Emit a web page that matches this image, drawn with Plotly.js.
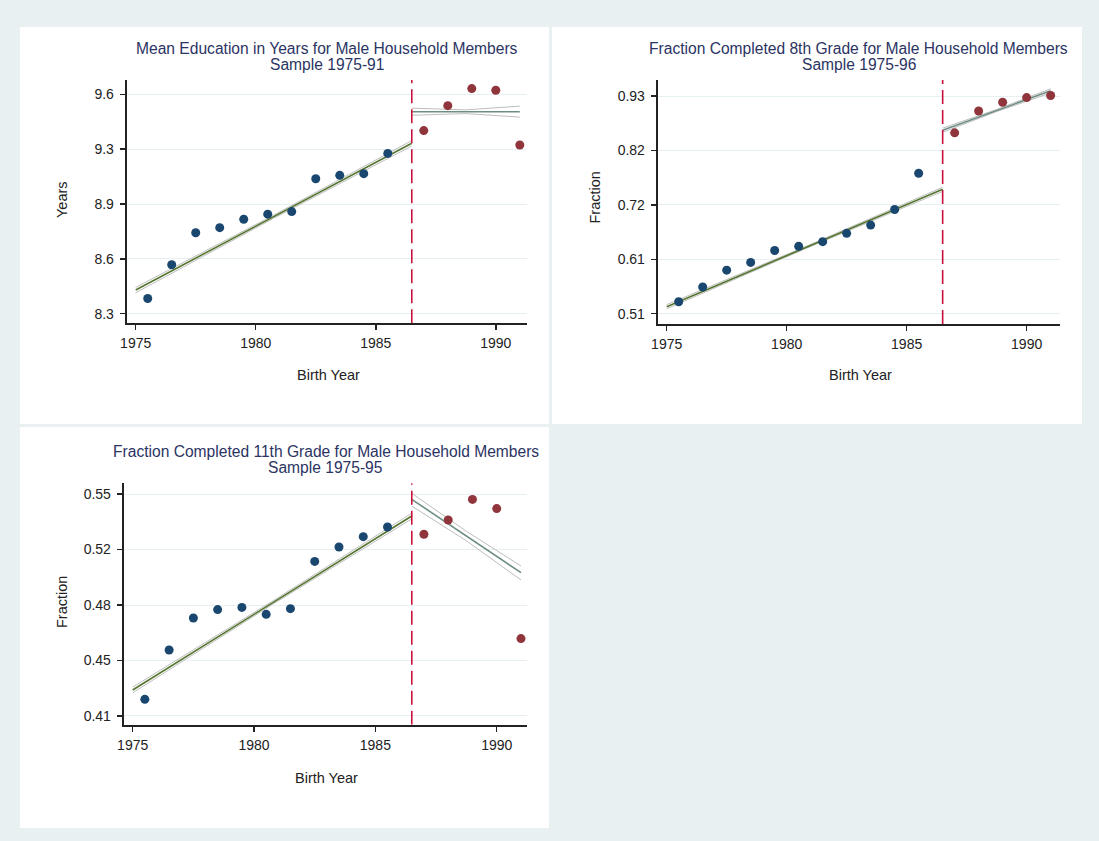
<!DOCTYPE html>
<html>
<head>
<meta charset="utf-8">
<script src="https://cdn.plot.ly/plotly-3.0.1.min.js"></script>
<style>
  html, body { margin: 0; padding: 0; background: #e8f0f2; }
  #chart { width: 1099px; height: 841px; }
</style>
</head>
<body>
<div id="chart"></div>
<script>
// ---------------- data ----------------
const birthYearsPre  = [1975.5, 1976.5, 1977.5, 1978.5, 1979.5, 1980.5, 1981.5, 1982.5, 1983.5, 1984.5, 1985.5];
const birthYearsPost = [1987, 1988, 1989, 1990, 1991];
const cutoffYear = 1986.5;

// Panel 1: mean education in years
const eduYearsPre  = [8.39, 8.59, 8.78, 8.81, 8.86, 8.89, 8.905, 9.10, 9.12, 9.13, 9.25];
const eduYearsPost = [9.385, 9.533, 9.634, 9.624, 9.30];
// Panel 2: fraction completed 8th grade
const grade8Pre  = [0.533, 0.5615, 0.594, 0.609, 0.632, 0.640, 0.649, 0.665, 0.681, 0.711, 0.781];
const grade8Post = [0.859, 0.901, 0.918, 0.927, 0.931];
// Panel 3: fraction completed 11th grade
const grade11Pre  = [0.4205, 0.4516, 0.4718, 0.4771, 0.4785, 0.4741, 0.4777, 0.5075, 0.5166, 0.5231, 0.5292];
const grade11Post = [0.5246, 0.5336, 0.5466, 0.5408, 0.4588];

// linear fits with confidence bounds
const fitYearsPre  = [1975, 1980.75, 1986.5];
const fitYearsPost = [1986.5, 1988.75, 1991];

const eduFitPre    = [8.440, 8.875, 9.310];
const eduCiHiPre   = [8.456, 8.884, 9.326];
const eduCiLoPre   = [8.424, 8.866, 9.294];
const eduFitPost   = [9.497, 9.497, 9.497];
const eduCiHiPost  = [9.518, 9.508, 9.530];
const eduCiLoPost  = [9.476, 9.486, 9.465];

const g8FitPre     = [0.5235, 0.6368, 0.750];
const g8CiHiPre    = [0.5275, 0.6388, 0.754];
const g8CiLoPre    = [0.5195, 0.6348, 0.746];
const g8FitPost    = [0.864, 0.902, 0.940];
const g8CiHiPost   = [0.868, 0.904, 0.944];
const g8CiLoPost   = [0.860, 0.900, 0.936];

const g11FitPre    = [0.4264, 0.4813, 0.5361];
const g11CiHiPre   = [0.4282, 0.4823, 0.5379];
const g11CiLoPre   = [0.4246, 0.4803, 0.5343];
const g11FitPost   = [0.5466, 0.5235, 0.5004];
const g11CiHiPost  = [0.5504, 0.5265, 0.5046];
const g11CiLoPost  = [0.5424, 0.5205, 0.4958];

// tick labels
const xTickVals = [1975, 1980, 1985, 1990];
const xTickText = ['1975', '1980', '1985', '1990'];
const eduTickVals = [8.3, 8.625, 8.95, 9.275, 9.6];
const eduTickText = ['8.3', '8.6', '8.9', '9.3', '9.6'];
const g8TickVals = [0.51, 0.615, 0.72, 0.825, 0.93];
const g8TickText = ['0.51', '0.61', '0.72', '0.82', '0.93'];
const g11TickVals = [0.41, 0.445, 0.48, 0.515, 0.55];
const g11TickText = ['0.41', '0.45', '0.48', '0.52', '0.55'];

const panelTitles = [
  ['Mean Education in Years for Male Household Members', 'Sample 1975-91'],
  ['Fraction Completed 8th Grade for Male Household Members', 'Sample 1975-96'],
  ['Fraction Completed 11th Grade for Male Household Members', 'Sample 1975-95']
];
const yTitles = ['Years', 'Fraction', 'Fraction'];
const xTitle = 'Birth Year';

// ---------------- styling ----------------
const W = 1099, H = 841;
const FONT = '"Liberation Sans", Arial, sans-serif';
const NAVY = '#1a476f', MAROON = '#90353b', GREEN = '#55752f', TEAL = '#6e8e84';
const CI_COL = '#bdbdbd', CUT_COL = '#c8103c', GRID = '#e6eff1';
const TICK_SIZE = 14, AXT_SIZE = 14.5, TITLE_SIZE = 15.6;
const px = v => v / W;
const py = v => 1 - v / H;

const traces = [];
function addPanel(xa, ya, pre, post, fitPre, hiPre, loPre, fitPost, hiPost, loPost, yRange) {
  const ax = {xaxis: xa, yaxis: ya};
  const line = (x, y, color, width) => Object.assign({
    x, y, type: 'scatter', mode: 'lines', line: {color, width}, hoverinfo: 'skip'
  }, ax);
  traces.push(line(fitYearsPre, hiPre, CI_COL, 1));
  traces.push(line(fitYearsPre, loPre, CI_COL, 1));
  traces.push(line(fitYearsPost, hiPost, CI_COL, 1));
  traces.push(line(fitYearsPost, loPost, CI_COL, 1));
  traces.push(line(fitYearsPre, fitPre, GREEN, 1.6));
  traces.push(line(fitYearsPost, fitPost, TEAL, 1.6));
  traces.push(Object.assign({
    x: [cutoffYear, cutoffYear], y: yRange, type: 'scatter', mode: 'lines',
    line: {color: CUT_COL, width: 1.6, dash: '14px,6px'}, hoverinfo: 'skip'
  }, ax));
  traces.push(Object.assign({
    x: birthYearsPre, y: pre, type: 'scatter', mode: 'markers',
    marker: {color: NAVY, size: 9, symbol: 'circle'}
  }, ax));
  traces.push(Object.assign({
    x: birthYearsPost, y: post, type: 'scatter', mode: 'markers',
    marker: {color: MAROON, size: 9, symbol: 'circle'}
  }, ax));
}

const r1 = [8.243, 9.685], r2 = [0.4901, 0.9609], r3 = [0.40451, 0.55675];
addPanel('x', 'y', eduYearsPre, eduYearsPost, eduFitPre, eduCiHiPre, eduCiLoPre, eduFitPost, eduCiHiPost, eduCiLoPost, r1);
addPanel('x2', 'y2', grade8Pre, grade8Post, g8FitPre, g8CiHiPre, g8CiLoPre, g8FitPost, g8CiHiPost, g8CiLoPost, r2);
addPanel('x3', 'y3', grade11Pre, grade11Post, g11FitPre, g11CiHiPre, g11CiLoPre, g11FitPost, g11CiHiPost, g11CiLoPost, r3);

function xAxis(domain, range, anchor) {
  return {
    domain, range, anchor, tickvals: xTickVals, ticktext: xTickText,
    showgrid: false, zeroline: false, showline: true, linecolor: '#222', linewidth: 2,
    ticks: 'outside', ticklen: 5, tickwidth: 1.5, tickcolor: '#222', ticklabelstandoff: 1,
    tickfont: {family: FONT, size: TICK_SIZE, color: '#222'}, fixedrange: true
  };
}
function yAxis(domain, range, anchor, vals, text) {
  return {
    domain, range, anchor, tickvals: vals, ticktext: text,
    showgrid: true, gridcolor: GRID, gridwidth: 1, zeroline: false,
    showline: true, linecolor: '#222', linewidth: 2,
    ticks: 'outside', ticklen: 5, tickwidth: 1.5, tickcolor: '#222', ticklabelstandoff: 3,
    tickfont: {family: FONT, size: TICK_SIZE, color: '#222'}, fixedrange: true
  };
}

const annotations = [];
function ann(text, x, y, size, color, angle) {
  annotations.push({
    text, x: px(x), y: py(y), xref: 'paper', yref: 'paper',
    xanchor: 'center', yanchor: 'middle', showarrow: false, textangle: angle || 0,
    font: {family: FONT, size, color}
  });
}
const TITLE_COL = '#2b3463';
// panel titles
ann(panelTitles[0][0], 326.8, 48.5, TITLE_SIZE, TITLE_COL); ann(panelTitles[0][1], 326.8, 65, TITLE_SIZE, TITLE_COL);
ann(panelTitles[1][0], 858.8, 48.5, TITLE_SIZE, TITLE_COL); ann(panelTitles[1][1], 858.8, 65, TITLE_SIZE, TITLE_COL);
ann(panelTitles[2][0], 325.5, 451.7, TITLE_SIZE, TITLE_COL); ann(panelTitles[2][1], 325.5, 467, TITLE_SIZE, TITLE_COL);
// axis titles
ann(yTitles[0], 62, 200, AXT_SIZE, '#222', -90);
ann(xTitle, 328, 375, AXT_SIZE, '#222');
ann(yTitles[1], 594.5, 198, AXT_SIZE, '#222', -90);
ann(xTitle, 860, 375, AXT_SIZE, '#222');
ann(yTitles[2], 62, 602, AXT_SIZE, '#222', -90);
ann(xTitle, 326.7, 778, AXT_SIZE, '#222');

const panelRect = (x0, y0, x1, y1) => ({
  type: 'rect', xref: 'paper', yref: 'paper', layer: 'below',
  x0: px(x0), x1: px(x1), y0: py(y1), y1: py(y0),
  fillcolor: '#ffffff', line: {width: 0}
});

const layout = {
  width: W, height: H,
  margin: {l: 0, r: 0, t: 0, b: 0, pad: 0},
  paper_bgcolor: '#e8f0f2', plot_bgcolor: '#ffffff',
  showlegend: false, hovermode: false,
  font: {family: FONT, size: 13, color: '#222'},
  xaxis:  xAxis([px(126.7), px(527)], [1974.625, 1991.3], 'y'),
  yaxis:  yAxis([py(323.3), py(80)], r1, 'x', eduTickVals, eduTickText),
  xaxis2: xAxis([px(657.7), px(1060)], [1974.625, 1991.39], 'y2'),
  yaxis2: yAxis([py(324), py(80)], r2, 'x2', g8TickVals, g8TickText),
  xaxis3: xAxis([px(123.7), px(527.3)], [1974.629, 1991.26], 'y3'),
  yaxis3: yAxis([py(724.7), py(483.3)], r3, 'x3', g11TickVals, g11TickText),
  shapes: [
    panelRect(20, 27, 549, 424),
    panelRect(552, 27, 1082, 424),
    panelRect(20, 427, 549, 828)
  ],
  annotations
};

Plotly.newPlot('chart', traces, layout, {displayModeBar: false, staticPlot: true});
</script>
</body>
</html>
